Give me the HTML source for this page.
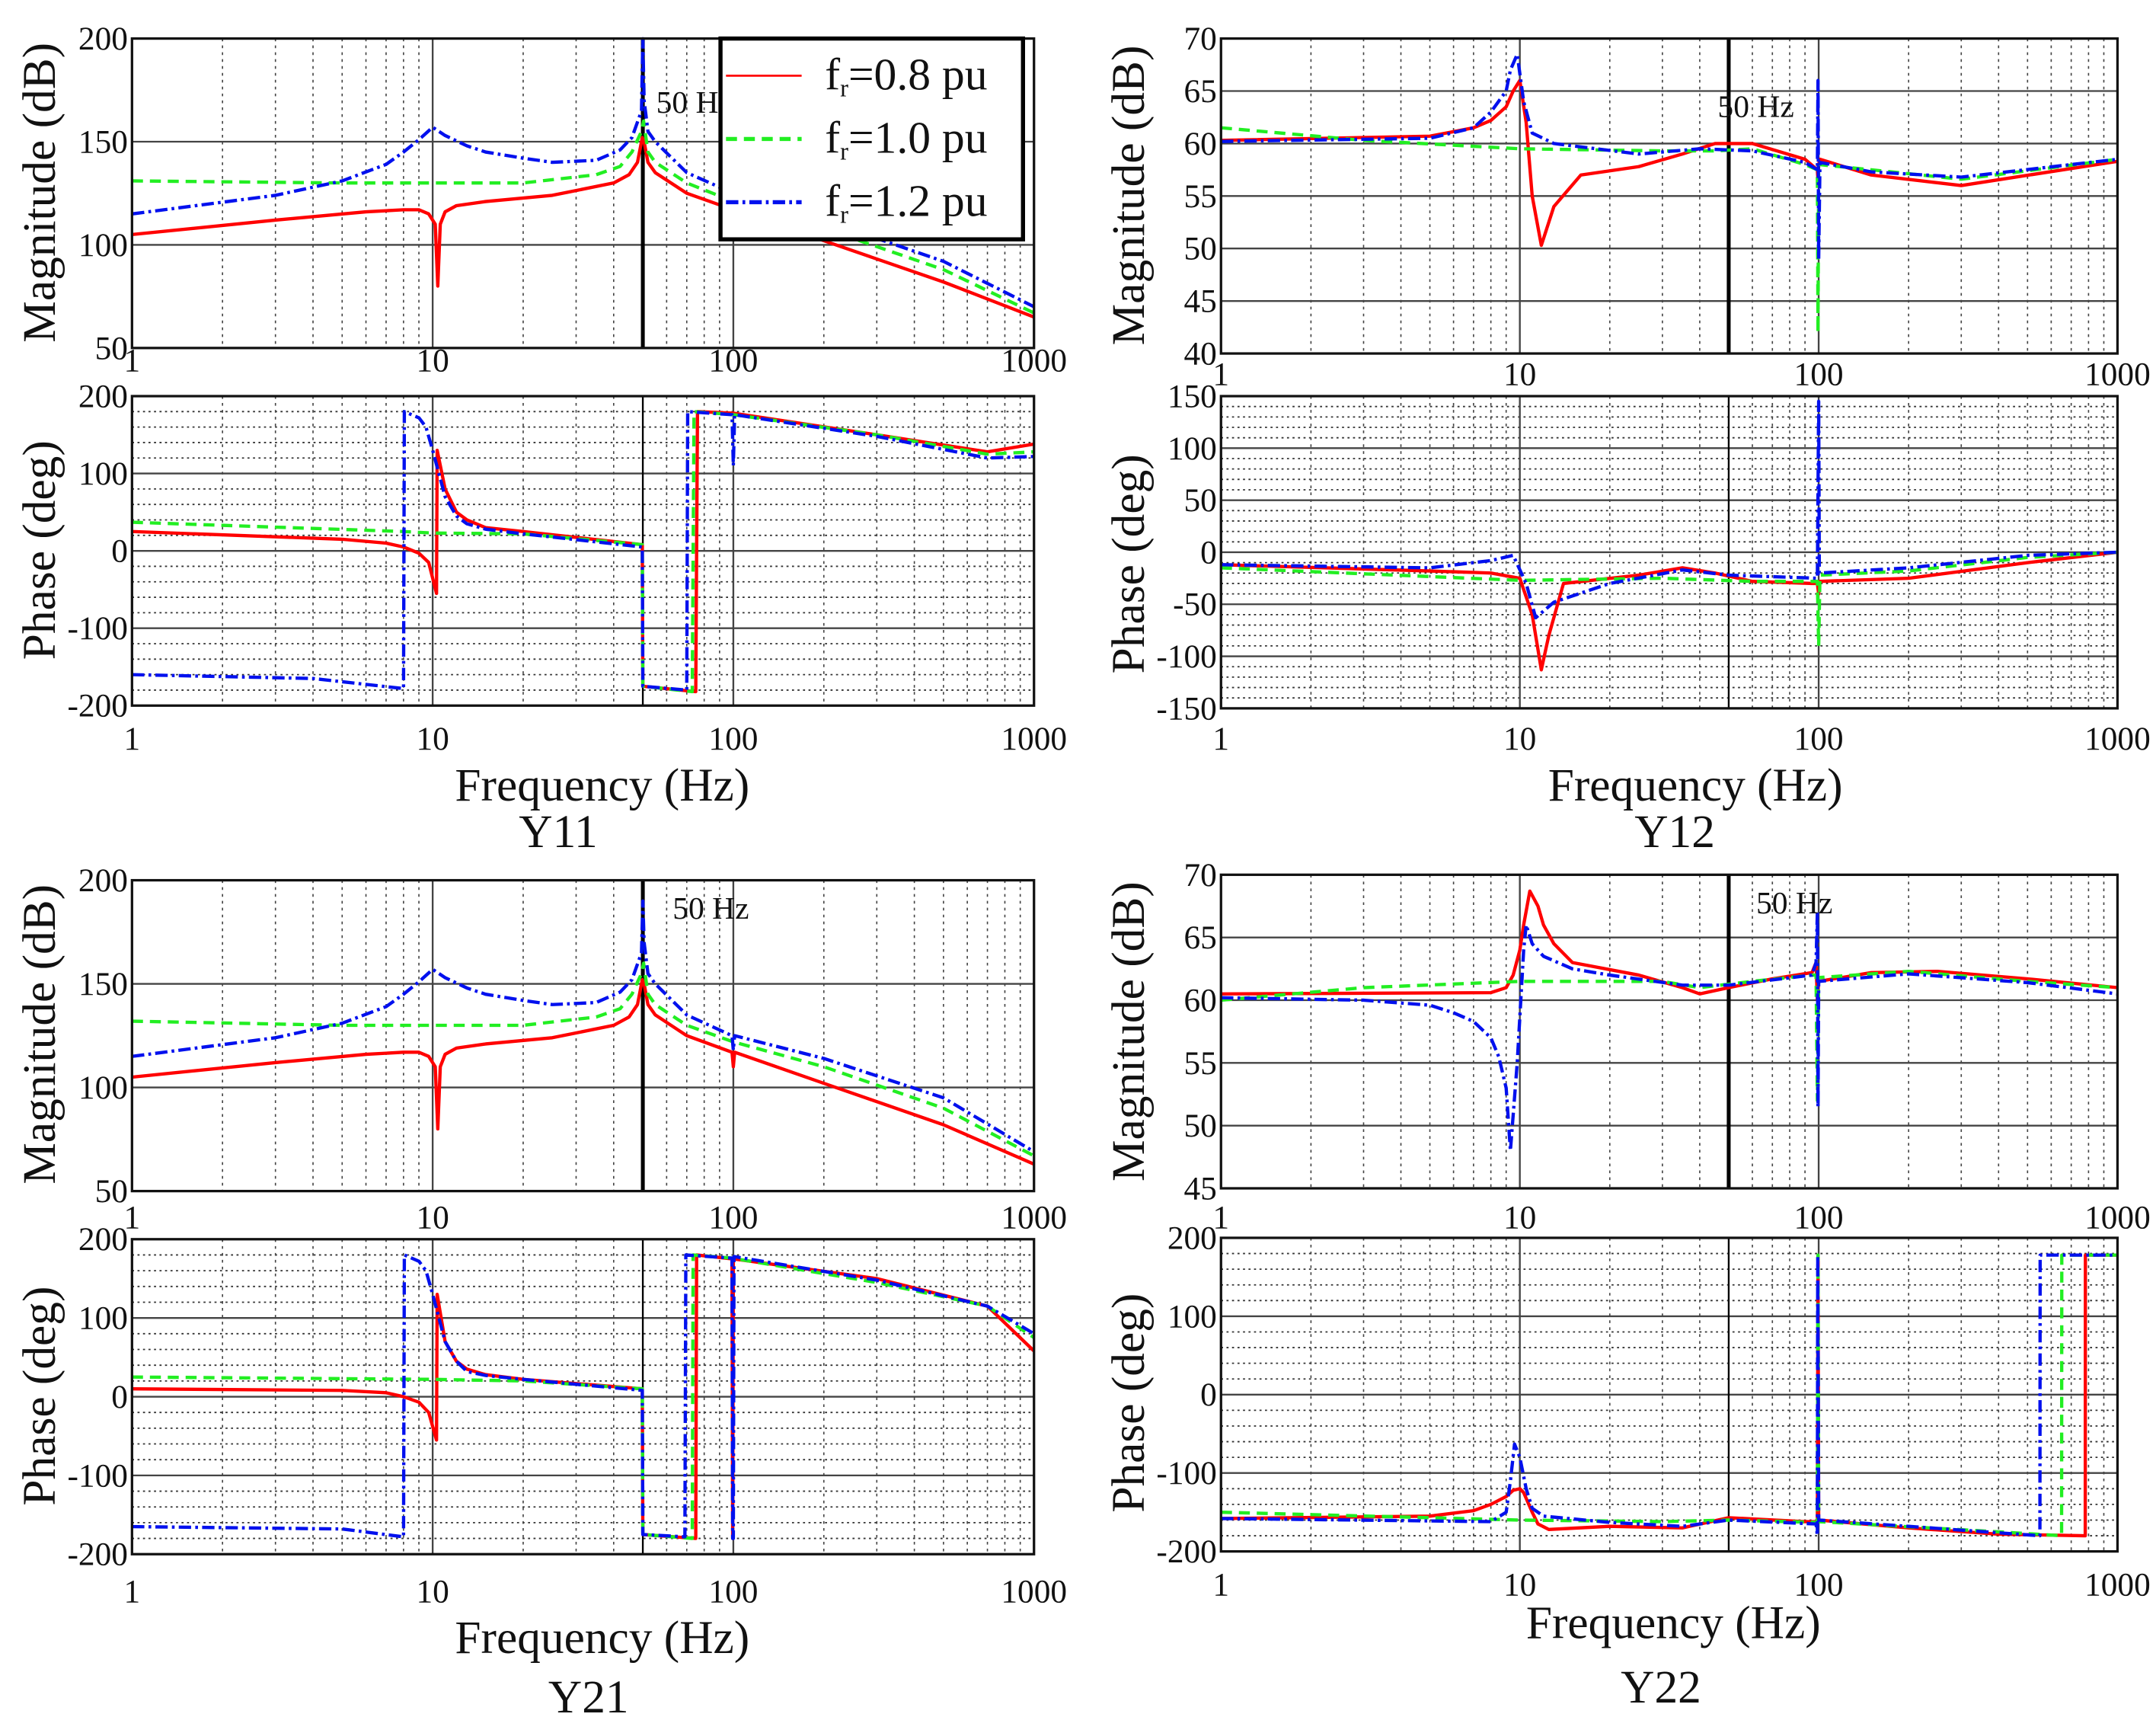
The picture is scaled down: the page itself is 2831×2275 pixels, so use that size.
<!DOCTYPE html>
<html><head><meta charset="utf-8"><style>
html,body{margin:0;padding:0;background:#fff}
svg{display:block}
text{font-family:"Liberation Serif",serif;fill:#111}
</style></head><body>
<svg id="fig" xmlns="http://www.w3.org/2000/svg" width="2831" height="2275" viewBox="0 0 1568 1260">
<rect width="1568" height="1260" fill="#fff"/>
</svg>
<script>
// ---- Data (frequency in Hz, value) ----
const y11MagRedF=[1,3,6,8,9,9.7,10.2,10.4,10.6,11,12,15,25,40,45,48,49.8,50.5,52,55,70,100,100.5,102,200,500,1000];
const y11MagRedV=[105,112,116,117,117,115,110,80,110,116,119,121,124,130,134,140,152,150,140,135,125,117,113,117,102,82,65];
const y11MagGrnF=[1,5,20,35,42,46,49.5,50.3,52,55,70,100,200,500,1000];
const y11MagGrnV=[131,130,130,134,138,145,155,160,145,140,130,121,108,88,67];
const y11MagBluF=[1,3,5,7,8,9,10,11,13,15,20,25,35,42,46,49.5,50,50.5,52,55,70,100,200,500,1000];
const y11MagBluV=[115,124,131,139,145,151,157,153,148,145,142,140,141,146,152,165,200,170,155,150,135,125,112,92,70];

const y11PhRedF=[1,5,7,8,9,9.7,10.3,10.35,11,12,13,15,20,49.8,50,75,76,100,300,700,1000];
const y11PhRedV=[25,15,10,5,-3,-15,-55,130,80,50,40,30,25,8,-175,-182,180,178,150,128,138];
const y11PhGrnF=[1,8,10,20,49.8,50,73,74,100,300,700,1000];
const y11PhGrnV=[37,25,23,22,8,-175,-182,180,176,150,125,128];
const y11PhBluF=[1,4,8,8.05,9,9.5,10,11,12,13,15,20,49.8,50,70,70.5,99,100,101,300,700,1000];
const y11PhBluV=[-160,-165,-178,180,172,160,130,70,45,35,28,22,5,-175,-180,180,176,110,176,148,120,122];

const y12MagRedF=[1,5,7,8,9,9.5,10,10.5,11,11.8,13,16,25,35,45,60,90,99,99.5,100,101,150,300,1000];
const y12MagRedV=[60.3,60.7,61.5,62.2,63.5,65,66,62,55,50.3,54,57,57.8,59,60,60,58.5,57.5,56.5,58,58.5,57,56,58.3];
const y12MagGrnF=[1,3,10,30,45,60,90,99,99.5,100,150,300,1000];
const y12MagGrnV=[61.5,60.3,59.5,59.3,59.3,59.5,58,57.5,42,58,57.5,56.6,58.5];
const y12MagBluF=[1,5,7,8,9,9.3,9.8,10.3,11,13,25,40,60,90,99,99.5,100,101,150,300,1000];
const y12MagBluV=[60.2,60.5,61.5,63,65,67,68.5,64,61,60,59,59.5,59.3,58.2,57.5,66,49,58.2,57.3,56.8,58.5];

const y12PhRedF=[1,5,8,10,11,11.8,12.5,14,25,35,45,60,95,99,100,101,200,500,1000];
const y12PhRedV=[-12,-18,-20,-25,-60,-113,-80,-30,-22,-15,-20,-28,-30,-30,-40,-28,-25,-10,0];
const y12PhGrnF=[1,10,30,60,99,100,101,200,500,1000];
const y12PhGrnV=[-15,-27,-25,-28,-28,-90,-22,-18,-5,0];
const y12PhBluF=[1,5,8,9.5,10.5,11.3,13,20,35,50,99,100,100.5,200,500,1000];
const y12PhBluV=[-12,-15,-8,-3,-30,-63,-48,-30,-17,-22,-25,145,-20,-15,-3,0];

const y21MagRedF=[1,3,6,8,9,9.7,10.2,10.4,10.6,11,12,15,25,40,45,48,49.8,50.5,52,55,70,99,100,101,200,500,1000];
const y21MagRedV=[105,112,116,117,117,115,110,80,110,116,119,121,124,130,134,140,152,150,140,135,125,117,110,117,102,82,63];
const y21MagGrnF=[1,5,20,35,42,46,49.5,50.3,52,55,70,100,200,500,1000];
const y21MagGrnV=[132,130,130,134,138,145,155,160,145,140,130,122,110,90,67];
const y21MagBluF=[1,3,5,7,8,9,10,11,13,15,20,25,35,42,46,49.5,50,50.5,52,55,70,99,100,101,200,500,1000];
const y21MagBluV=[115,124,131,139,145,151,157,153,148,145,142,140,141,146,152,165,190,170,155,150,135,125,118,125,114,95,69];

const y21PhRedF=[1,5,7,8,9,9.7,10.3,10.35,11,12,13,15,20,49.8,50,75,75.5,99,99.5,100,300,700,1000];
const y21PhRedV=[10,8,5,0,-7,-20,-55,130,70,45,35,28,22,10,-175,-180,180,175,-180,175,150,115,58];
const y21PhGrnF=[1,10,20,49.8,50,73,73.5,99,300,700,1000];
const y21PhGrnV=[25,22,20,10,-175,-180,180,176,145,115,75];
const y21PhBluF=[1,5,8,8.05,9,9.5,10,11,12,13,15,20,49.8,50,69,69.5,99,99.5,100,100.5,300,700,1000];
const y21PhBluV=[-165,-168,-178,180,172,160,130,70,45,32,27,22,8,-175,-178,180,176,-180,-180,178,148,115,80];

const y22MagRedF=[1,8,9,9.5,10,10.3,10.8,11.5,12,13,15,25,35,40,50,70,95,98,99,100,150,250,500,1000];
const y22MagRedV=[60.5,60.6,61,62,64,66,68.7,67.5,66,64.5,63,62,61,60.5,61,61.7,62.2,63,60,61.5,62.2,62.3,61.7,61];
const y22MagGrnF=[1,3,10,30,40,60,95,98,99,100,200,500,1000];
const y22MagGrnV=[60,61,61.5,61.5,61,61.5,62,62,52,61.8,62.3,61.5,61];
const y22MagBluF=[1,3,5,6,7,8,8.5,9,9.3,9.8,10.3,10.5,11,12,15,20,35,50,95,98,99,99.5,100,200,500,1000];
const y22MagBluV=[60.2,60,59.6,59,58.3,57,55.5,53,48,55,64,66,64.5,63.5,62.5,62,61.2,61.2,62,63,67,51.5,61.5,62.1,61.4,60.5];

const y22PhRedF=[1,5,7,8,9,9.5,10,10.3,11,11.5,12.5,20,35,50,90,98,99,99.5,100,200,400,780,781,1000];
const y22PhRedV=[-158,-155,-148,-140,-130,-122,-120,-125,-150,-165,-172,-168,-170,-157,-162,-162,-170,175,-160,-170,-178,-180,178,178];
const y22PhGrnF=[1,5,10,30,50,99,99.5,100,400,650,651,1000];
const y22PhGrnV=[-150,-157,-160,-162,-160,-163,178,-162,-175,-180,178,178];
const y22PhBluF=[1,8,9,9.3,9.6,10,10.5,11,12,20,35,50,98,99,99.3,100,200,550,551,1000];
const y22PhBluV=[-158,-162,-150,-110,-63,-80,-120,-145,-155,-163,-168,-160,-165,-180,178,-160,-168,-180,178,178];

const magTicksY11=[50,100,150,200];
const magTicksY12=[40,45,50,55,60,65,70];
const magTicksY22=[45,50,55,60,65,70];
const phTicks200=[-200,-100,0,100,200];
const phTicks150=[-150,-100,-50,0,50,100,150];
const freqTicks=[1,10,100,1000];
const freqTickLabels=["1","10","100","1000"];
const legendLabels=["0.8 pu","1.0 pu","1.2 pu"];
const panelTitles=["Y11","Y12","Y21","Y22"];

// ---- Drawing ----
const NS="http://www.w3.org/2000/svg";
const svg=document.getElementById('fig');
function el(tag,attrs,parent){const e=document.createElementNS(NS,tag);for(const k in attrs)e.setAttribute(k,attrs[k]);(parent||svg).appendChild(e);return e;}
const styles={
 red:{stroke:'#ff0000',w:2.4,dash:''},
 grn:{stroke:'#22ee22',w:2.4,dash:'8,5'},
 blu:{stroke:'#0010ee',w:2.4,dash:'9,3,2,3'}
};
let clipId=0;
function axes(cfg){
 const {x0,x1,y0,y1,ymin,ymax,major,minor,xLabY,line50,thick50,name}=cfg;
 const g=el('g',{});
 
 
 const xs=f=>x0+(Math.log10(f))/3*(x1-x0);
 const ys=v=>y1-(v-ymin)/(ymax-ymin)*(y1-y0);
 if(minor){for(let v=ymin+minor;v<ymax;v+=minor){if(major.includes(Math.round(v)))continue;el('line',{x1:x0,x2:x1,y1:ys(v),y2:ys(v),stroke:'#333','stroke-width':1,'stroke-dasharray':'1.5,2.5'},g);}}
 for(let d=0;d<3;d++)for(let k=2;k<10;k++){const x=xs(Math.pow(10,d)*k);el('line',{x1:x,x2:x,y1:y0,y2:y1,stroke:'#444','stroke-width':0.9,'stroke-dasharray':'2,3'},g);}
 major.forEach(v=>{el('line',{x1:x0,x2:x1,y1:ys(v),y2:ys(v),stroke:'#444','stroke-width':1.3},g);});
 [10,100].forEach(f=>el('line',{x1:xs(f),x2:xs(f),y1:y0,y2:y1,stroke:'#444','stroke-width':1.3},g));
 el('line',{x1:xs(line50),x2:xs(line50),y1:y0,y2:y1,stroke:'#000','stroke-width':thick50?2.8:1.3},g);
 major.forEach(v=>{const t=el('text',{x:x0-3,y:ys(v)+8,'font-size':24,'text-anchor':'end'},g);t.textContent=v;});
 freqTicks.forEach((f,i)=>{const t=el('text',{x:xs(f),y:xLabY,'font-size':24,'text-anchor':'middle'},g);t.textContent=freqTickLabels[i];});
 const cid='c'+(clipId++);
 const cp=el('clipPath',{id:cid},g);el('rect',{x:x0,y:y0-1,width:x1-x0,height:y1-y0+2},cp);
 const sg=el('g',{'clip-path':'url(#'+cid+')'},g);
 cfg.series.forEach(s=>{
  const st=styles[s.c];
  const d=s.f.map((f,i)=>(i?'L':'M')+xs(f).toFixed(2)+','+ys(s.v[i]).toFixed(2)).join('');
  const p=el('path',{d:d,fill:'none',stroke:st.stroke,'stroke-width':st.w,'stroke-dasharray':st.dash,'stroke-linejoin':'round'},sg);
  
  
 });
 el('rect',{x:x0,y:y0,width:x1-x0,height:y1-y0,fill:'none',stroke:'#111','stroke-width':1.8},g);
 return g;
}
function ylabel(x,y,txt,name){const t=el('text',{x:x,y:y,'font-size':34,'text-anchor':'middle',transform:'rotate(-90 '+x+' '+y+')'});t.textContent=txt;}
function txt(x,y,s,size,name){const t=el('text',{x:x,y:y,'font-size':size,'text-anchor':'middle'});t.textContent=s;return t;}

const P=[
 {L:96,R:752,mag:[28,253],ph:[288,513],magT:magTicksY11,mMin:50,mMax:200,phT:phTicks200,pMin:-200,pMax:200,pMinor:20,
  magS:[[y11MagRedF,y11MagRedV],[y11MagGrnF,y11MagGrnV],[y11MagBluF,y11MagBluV]],phS:[[y11PhRedF,y11PhRedV],[y11PhGrnF,y11PhGrnV],[y11PhBluF,y11PhBluV]],
  fl:[438,582],ti:[406,616],hz:[500,82],magLabY:270,phLabY:545,yl1:140,yl2:400},
 {L:888,R:1540,mag:[28,257],ph:[288,515],magT:magTicksY12,mMin:40,mMax:70,phT:phTicks150,pMin:-150,pMax:150,pMinor:10,
  magS:[[y12MagRedF,y12MagRedV],[y12MagGrnF,y12MagGrnV],[y12MagBluF,y12MagBluV]],phS:[[y12PhRedF,y12PhRedV],[y12PhGrnF,y12PhGrnV],[y12PhBluF,y12PhBluV]],
  fl:[1233,582],ti:[1218,616],hz:[1272,85],magLabY:280,phLabY:545,yl1:142,yl2:410},
 {L:96,R:752,mag:[640,866],ph:[901,1130],magT:magTicksY11,mMin:50,mMax:200,phT:phTicks200,pMin:-200,pMax:200,pMinor:20,
  magS:[[y21MagRedF,y21MagRedV],[y21MagGrnF,y21MagGrnV],[y21MagBluF,y21MagBluV]],phS:[[y21PhRedF,y21PhRedV],[y21PhGrnF,y21PhGrnV],[y21PhBluF,y21PhBluV]],
  fl:[438,1202],ti:[428,1245],hz:[512,668],magLabY:893,phLabY:1165,yl1:752,yl2:1015},
 {L:888,R:1540,mag:[636,864],ph:[900,1128],magT:magTicksY22,mMin:45,mMax:70,phT:phTicks200,pMin:-200,pMax:200,pMinor:20,
  magS:[[y22MagRedF,y22MagRedV],[y22MagGrnF,y22MagGrnV],[y22MagBluF,y22MagBluV]],phS:[[y22PhRedF,y22PhRedV],[y22PhGrnF,y22PhGrnV],[y22PhBluF,y22PhBluV]],
  fl:[1217,1191],ti:[1208,1238],hz:[1300,664],magLabY:893,phLabY:1160,yl1:750,yl2:1020}
];
const cols=['red','grn','blu'];
P.forEach((p,i)=>{
 const t=panelTitles[i].toLowerCase();
 axes({name:t+'-magnitude-plot',x0:p.L,x1:p.R,y0:p.mag[0],y1:p.mag[1],ymin:p.mMin,ymax:p.mMax,major:p.magT,minor:0,xLabY:p.magLabY,line50:50,thick50:true,
  series:p.magS.map((s,j)=>({f:s[0],v:s[1],c:cols[j],name:t+'-mag-'+cols[j]}))});
 axes({name:t+'-phase-plot',x0:p.L,x1:p.R,y0:p.ph[0],y1:p.ph[1],ymin:p.pMin,ymax:p.pMax,major:p.phT,minor:p.pMinor,xLabY:p.phLabY,line50:50,thick50:false,
  series:p.phS.map((s,j)=>({f:s[0],v:s[1],c:cols[j],name:t+'-phase-'+cols[j]}))});
 const lx=i%2===0?30:822;
 ylabel(lx+10,p.yl1,'Magnitude (dB)',t+'-magnitude-axis-title');
 ylabel(lx+10,p.yl2,'Phase (deg)',t+'-phase-axis-title');
 txt(p.fl[0],p.fl[1],'Frequency (Hz)',34,t+'-frequency-axis-title');
 txt(p.ti[0],p.ti[1],panelTitles[i],34,t+'-panel-title');
 txt(p.hz[0]+5,p.hz[1],'50 Hz',23,t+'-50hz-label');
});
// legend
const lg=el('g',{});


el('rect',{x:524,y:28,width:220,height:146,fill:'#fff',stroke:'#000','stroke-width':3},lg);
legendLabels.forEach((lab,j)=>{
 const y=55+j*46;const st=styles[cols[j]];
 const ln=el('line',{x1:528,x2:583,y1:y,y2:y,stroke:st.stroke,'stroke-width':j?3:1.5,'stroke-dasharray':st.dash},lg);
 
 
 const t=el('text',{x:600,y:y+10,'font-size':33},lg);
 
 
 t.appendChild(document.createTextNode('f'));
 const s=el('tspan',{'font-size':18,dy:5},t);s.textContent='r';
 const r=el('tspan',{dy:-5},t);r.textContent='='+lab;
});
</script>
</body></html>
